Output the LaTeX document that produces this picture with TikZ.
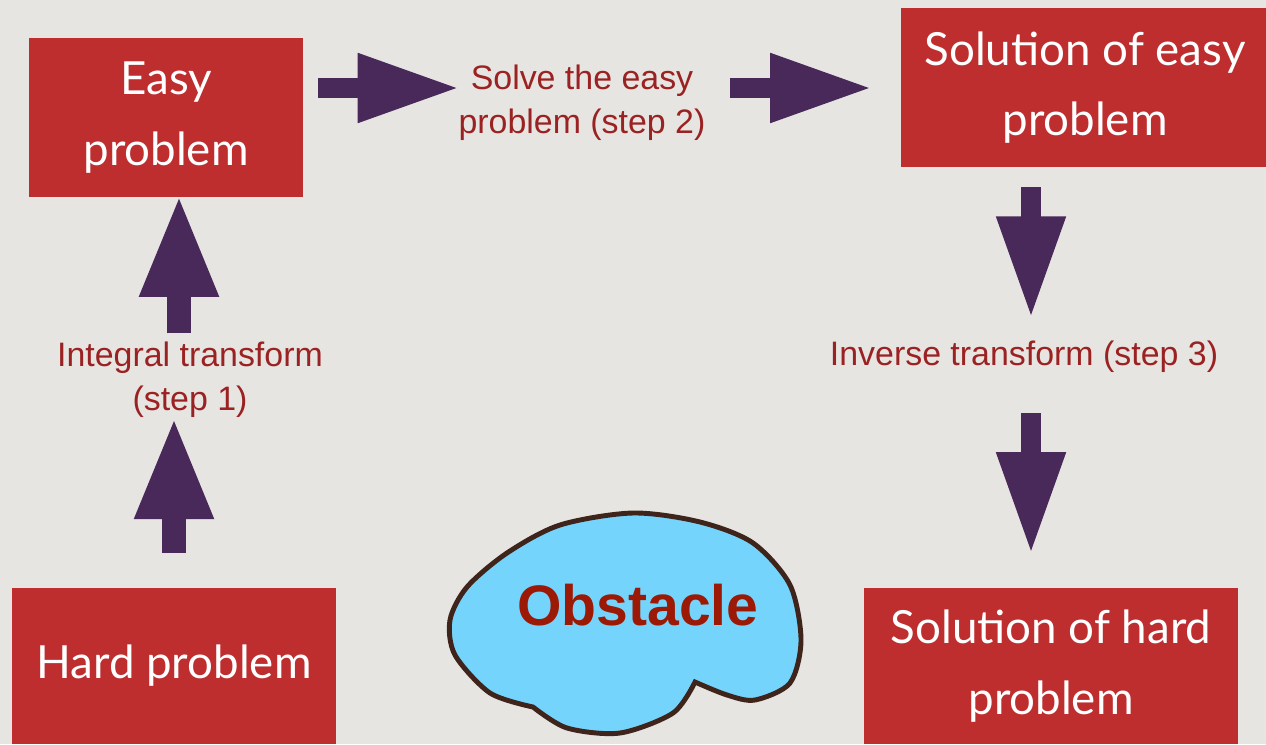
\documentclass[tikz,border=0pt]{standalone}
\usepackage{fontspec}
\setmainfont{Liberation Sans}
\newfontfamily\boxfont{Lato}
\usetikzlibrary{arrows.meta,positioning}
\definecolor{bg}{RGB}{231, 229, 225}
\definecolor{boxred}{RGB}{190, 46, 47}
\definecolor{arrowc}{RGB}{72, 41, 90}
\definecolor{labelc}{RGB}{155, 34, 34}
\definecolor{obstc}{RGB}{155, 25, 5}
\definecolor{blobfill}{RGB}{117, 212, 252}
\definecolor{blobline}{RGB}{62, 36, 26}

\begin{document}
\begin{tikzpicture}[
    x=0.02cm, y=-0.02cm,
    box/.style={rectangle, fill=boxred, text=white, align=center,
                font=\boxfont\fontsize{26pt}{40pt}\selectfont, inner sep=0pt},
    lab/.style={align=center, text=labelc, inner sep=0pt,
                font=\fontsize{19.3pt}{25pt}\selectfont},
    blk/.style={draw=arrowc, line width=0.4cm, -{Triangle[length=2.05cm, width=1.28cm]}},
    blkw/.style={blk, line width=0.48cm, -{Triangle[length=2.05cm, width=1.45cm]}}
]
\path[use as bounding box, clip] (0,0) rectangle (1266,744);
\fill[bg] (0,0) rectangle (1266,744);

% Main boxes
\node[box, minimum width=5.48cm, minimum height=3.18cm] (easy) at (166,117.5) {Easy\\problem};
\node[box, minimum width=7.36cm, minimum height=3.18cm] (soleasy) at (1085,87.5) {Solution of easy\\problem};
\node[box, minimum width=6.48cm, minimum height=3.12cm] (hard) at (174,666) {Hard problem};
\node[box, minimum width=7.48cm, minimum height=3.12cm] (solhard) at (1051,666) {Solution of hard\\problem};

% Step labels
\node[lab] (solve) at (582,103) {Solve the easy\\problem (step 2)};
\node[lab] (integ) at (190,380) {Integral transform\\(step 1)};
\node[lab] (inverse) at (1024,357) {Inverse transform (step 3)};

% Obstacle
\draw[blobline, fill=blobfill, line width=2.8pt]
    plot[smooth] coordinates {(533,707) (490,693) (455,655) (450,620) (467,587) (507,553)
        (560,525) (633,513) (700,522) (753,543) (790,585) (801,640) (790,683) (755,700)
        (727,695) (695,682)}
    -- plot[smooth] coordinates {(695,682) (673,713) (620,733) (567,728) (533,707)} -- cycle;
\node[text=obstc, font=\bfseries\fontsize{32.5pt}{40pt}\selectfont, inner sep=0pt] (obst) at (638,605) {Obstacle};

% Arrows
\draw[blk, shorten <=0.3cm, shorten >=-0.04cm] (easy.east |- 0,88) -- (solve.west |- 0,88);
\draw[blk, shorten <=0.48cm, shorten >=0.56cm] (solve.east |- 0,88) -- (soleasy.west |- 0,88);
\draw[blk, shorten <=0.4cm, shorten >=0.44cm] (soleasy.south -| 1031,0) -- (inverse.north -| 1031,0);
\draw[blk, shorten <=0.8cm, shorten >=0.66cm] (inverse.south -| 1031,0) -- (solhard.north -| 1031,0);
\draw[blkw, shorten <=0.7cm, shorten >=-0.03cm] (hard.north -| 174,0) -- (integ.south -| 174,0);
\draw[blkw, shorten <=0.17cm, shorten >=-0.06cm] (integ.north -| 179,0) -- (easy.south -| 179,0);
\end{tikzpicture}
\end{document}
